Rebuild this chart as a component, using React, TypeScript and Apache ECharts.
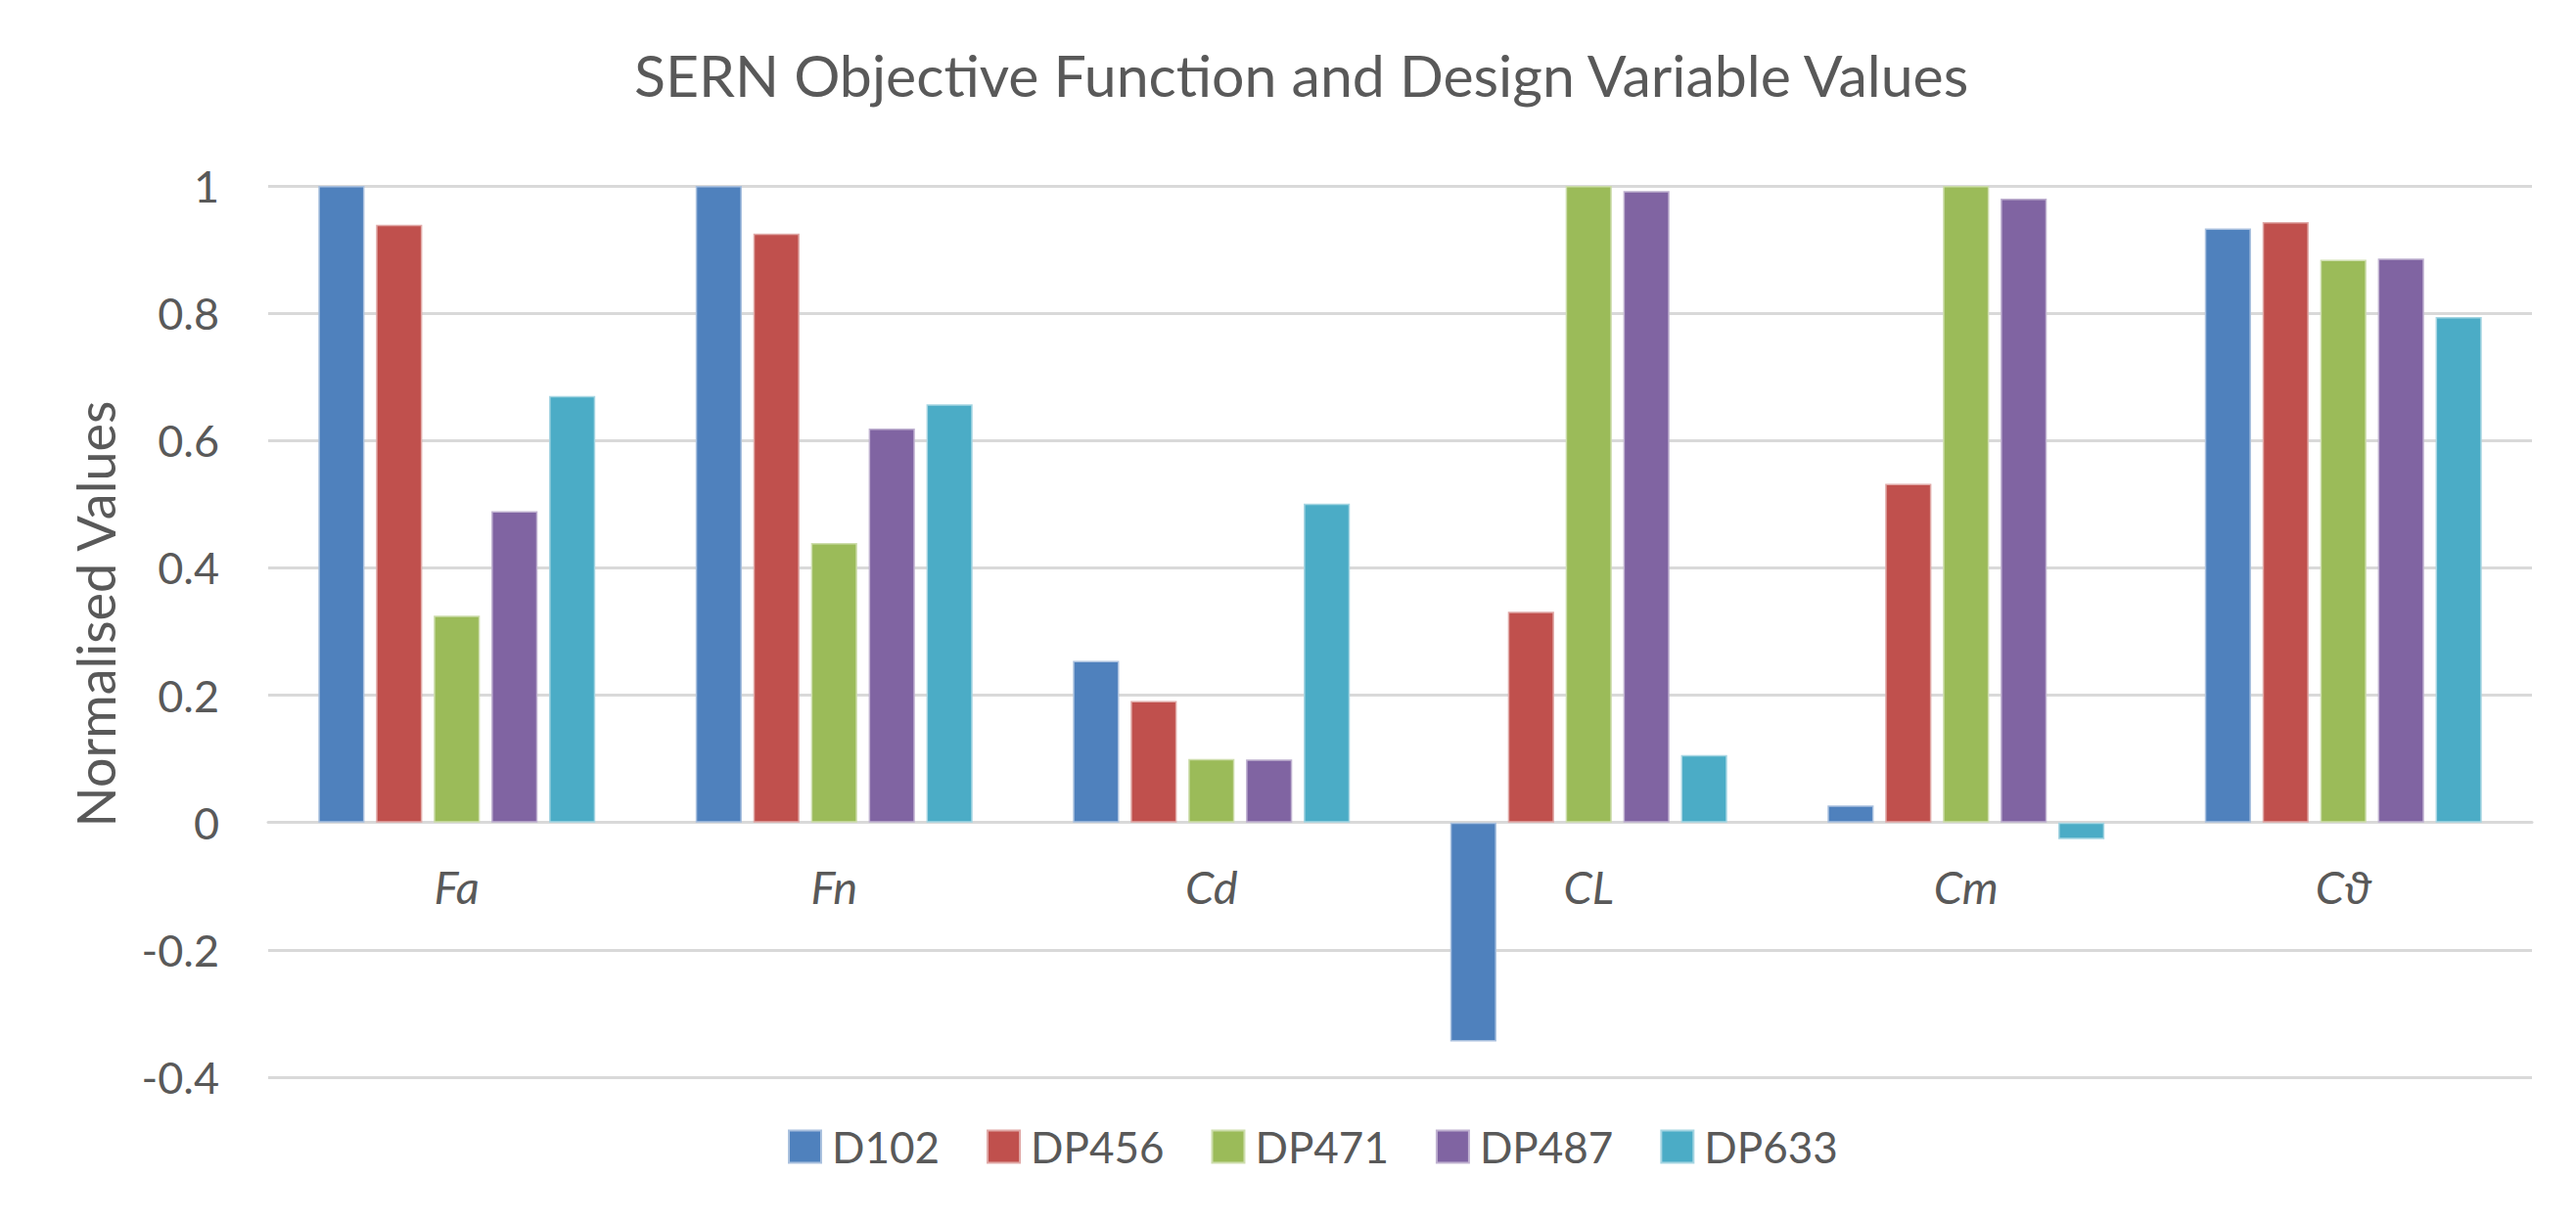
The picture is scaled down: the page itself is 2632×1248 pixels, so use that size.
import React, { useEffect, useRef } from "react";
import * as echarts from "echarts";

const categories = ["Fa", "Fn", "Cd", "CL", "Cm", "Cϑ"];
const seriesNames = ["D102", "DP456", "DP471", "DP487", "DP633"];
const d102 = [1.0, 1.0, 0.254, -0.344, 0.027, 0.933];
const dp456 = [0.939, 0.925, 0.191, 0.331, 0.532, 0.943];
const dp471 = [0.325, 0.439, 0.1, 1.0, 1.0, 0.884];
const dp487 = [0.489, 0.619, 0.099, 0.992, 0.98, 0.886];
const dp633 = [0.67, 0.657, 0.501, 0.106, -0.026, 0.794];
const seriesValues = [d102, dp456, dp471, dp487, dp633];
const yMin = -0.4;
const yMax = 1;
const yStep = 0.2;
const colors = ["#4F81BD", "#C0504D", "#9BBB59", "#8064A2", "#4BACC6"];
const borderColors = ["#A9C0DE", "#E0A8A6", "#CDDDAC", "#BFB1D0", "#A5D5E2"];

const FONT = "Lato, 'Open Sans', sans-serif";
const TEXT = "#595959";
const W = 2632;
const H = 1248;
const GRID_TOP = 190;
const GRID_BOTTOM = 147;

export default function App() {
  const ref = useRef<HTMLDivElement>(null);
  useEffect(() => {
    if (!ref.current) return;
    const chart = echarts.init(ref.current, undefined, { renderer: "svg" });
    const plotH = H - GRID_TOP - GRID_BOTTOM;
    // move category axis from the bottom of the grid up to the zero line
    const zeroOffset = -plotH * (0 - yMin) / (yMax - yMin);
    chart.setOption({
      animation: false,
      backgroundColor: "#ffffff",
      title: {
        text: "SERN Objective Function and Design Variable Values",
        left: 648,
        top: 47,
        padding: 0,
        textStyle: { fontFamily: FONT, fontSize: 59, fontWeight: "normal", color: TEXT },
      },
      legend: {
        data: seriesNames,
        left: 805,
        top: 1150,
        padding: 0,
        icon: "rect",
        itemWidth: 33,
        itemHeight: 33,
        itemGap: 48,
        textStyle: { fontFamily: FONT, fontSize: 44, color: TEXT, padding: [0, 0, 0, 6] },
      },
      grid: { left: 274, right: 45, top: GRID_TOP, bottom: GRID_BOTTOM, containLabel: false },
      xAxis: {
        type: "category",
        data: categories,
        offset: zeroOffset,
        axisLine: { show: true, onZero: false, lineStyle: { color: "#D9D9D9", width: 3 } },
        axisTick: { show: false },
        axisLabel: {
          fontFamily: FONT,
          fontStyle: "italic",
          fontSize: 47,
          color: TEXT,
          margin: 42,
        },
      },
      yAxis: {
        type: "value",
        min: yMin,
        max: yMax,
        interval: yStep,
        name: "Normalised Values",
        nameLocation: "middle",
        nameRotate: 90,
        nameGap: 150,
        nameTextStyle: { fontFamily: FONT, fontSize: 54, color: TEXT, padding: [0, 0, 0, 36] },
        axisLine: { show: false },
        axisTick: { show: false },
        axisLabel: {
          fontFamily: FONT,
          fontSize: 45,
          color: TEXT,
          margin: 50,
          formatter: (v: number) => String(Math.round(v * 10) / 10),
        },
        splitLine: { show: true, lineStyle: { color: "#D9D9D9", width: 3 } },
      },
      series: seriesNames.map((name, i) => ({
        name,
        type: "bar",
        data: seriesValues[i],
        barGap: "25%",
        barCategoryGap: "26.6%",
        itemStyle: { color: colors[i], borderColor: borderColors[i], borderWidth: 1.5 },
      })),
    });
    return () => chart.dispose();
  }, []);
  return (
    <div
      ref={ref}
      style={{ position: "fixed", left: 0, top: 0, width: W, height: H, background: "#fff" }}
    />
  );
}
